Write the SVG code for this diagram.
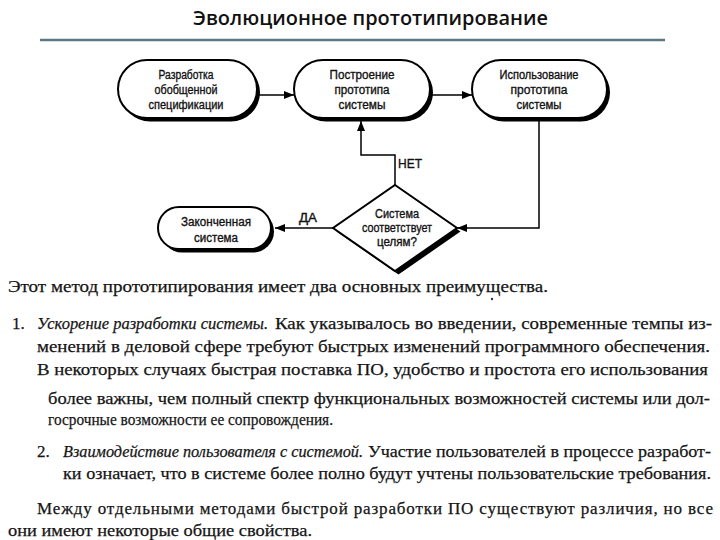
<svg xmlns="http://www.w3.org/2000/svg" width="720" height="540" viewBox="0 0 720 540">
<defs>
<style>
.box{fill:#fff;stroke:#000;stroke-width:2}
.sh{fill:#000}
.lbl{font-family:"Liberation Sans",Arial,sans-serif;font-size:12.5px;fill:#111;stroke:#111;stroke-width:0.35}
.body{font-family:"Liberation Serif","Times New Roman","DejaVu Serif",serif;font-size:17px;fill:#151515;stroke:#151515;stroke-width:0.25}
.it{font-style:italic}
.con{fill:none;stroke:#000;stroke-width:1.5}
</style>
<marker id="arr" markerUnits="userSpaceOnUse" markerWidth="10" markerHeight="8" refX="10" refY="4" orient="auto">
<path d="M0,0 L10,4 L0,8 z" fill="#000"/>
</marker>
</defs>
<rect width="720" height="540" fill="#fff"/>
<g id="title">
<text x="193" y="25" font-family="'Open Sans','Noto Sans',sans-serif" font-size="19" font-weight="600" fill="#111" textLength="355" lengthAdjust="spacingAndGlyphs">Эволюционное прототипирование</text>
<line x1="40" y1="40" x2="665" y2="40" stroke="#5d7884" stroke-width="2.5"/>
</g>
<g id="connectors">
<path class="con" d="M257,95 H294" marker-end="url(#arr)"/>
<path class="con" d="M430,95 H472" marker-end="url(#arr)"/>
<path class="con" d="M539,120 V228 H457" marker-end="url(#arr)"/>
<path class="con" d="M395,185 V155 H361 V121" marker-end="url(#arr)"/>
<path class="con" d="M333,228 H275" marker-end="url(#arr)"/>
<text class="lbl" x="398" y="167.5" textLength="24" lengthAdjust="spacingAndGlyphs">НЕТ</text>
<text class="lbl" x="299" y="221.5" textLength="18" lengthAdjust="spacingAndGlyphs">ДА</text>
</g>
<g id="node-spec">
<rect class="sh" x="121" y="63.5" width="139" height="58" rx="29"/>
<rect class="box" x="118" y="60" width="139" height="58" rx="29"/>
<text class="lbl" x="158.5" y="78.5" textLength="55" lengthAdjust="spacingAndGlyphs">Разработка</text>
<text class="lbl" x="154.5" y="93.5" textLength="63" lengthAdjust="spacingAndGlyphs">обобщенной</text>
<text class="lbl" x="148.5" y="108.5" textLength="75" lengthAdjust="spacingAndGlyphs">спецификации</text>
</g>
<g id="node-build">
<rect class="sh" x="297" y="63.5" width="136" height="58" rx="29"/>
<rect class="box" x="294" y="60" width="136" height="58" rx="29"/>
<text class="lbl" x="329.5" y="78.5" textLength="65" lengthAdjust="spacingAndGlyphs">Построение</text>
<text class="lbl" x="334.5" y="93.5" textLength="55" lengthAdjust="spacingAndGlyphs">прототипа</text>
<text class="lbl" x="338.5" y="108.5" textLength="47" lengthAdjust="spacingAndGlyphs">системы</text>
</g>
<g id="node-use">
<rect class="sh" x="475" y="63.5" width="135" height="58" rx="29"/>
<rect class="box" x="472" y="60" width="135" height="58" rx="29"/>
<text class="lbl" x="499.5" y="78.5" textLength="79" lengthAdjust="spacingAndGlyphs">Использование</text>
<text class="lbl" x="510.5" y="93.5" textLength="57" lengthAdjust="spacingAndGlyphs">прототипа</text>
<text class="lbl" x="516.5" y="108.5" textLength="45" lengthAdjust="spacingAndGlyphs">системы</text>
</g>
<g id="node-decision">
<polygon class="sh" points="398.5,188.5 460.5,231.5 398.5,274.5 336.5,231.5"/>
<polygon class="box" points="395,185 457,228 395,271 333,228"/>
<text class="lbl" x="375" y="217.5" textLength="44" lengthAdjust="spacingAndGlyphs">Система</text>
<text class="lbl" x="362" y="231.5" textLength="70" lengthAdjust="spacingAndGlyphs">соответствует</text>
<text class="lbl" x="377" y="245.5" textLength="40" lengthAdjust="spacingAndGlyphs">целям?</text>
</g>
<g id="node-done">
<rect class="sh" x="161" y="210.5" width="113" height="42" rx="21"/>
<rect class="box" x="158" y="207" width="113" height="42" rx="21"/>
<text class="lbl" x="181" y="225.5" textLength="70" lengthAdjust="spacingAndGlyphs">Законченная</text>
<text class="lbl" x="194" y="241.5" textLength="44" lengthAdjust="spacingAndGlyphs">система</text>
</g>
<g id="body-text" font-family="'Liberation Serif','Times New Roman',serif">
<text class="body" x="8" y="292" textLength="540" lengthAdjust="spacingAndGlyphs">Этот метод прототипирования имеет два основных преимущества.</text>
<circle cx="492" cy="299" r="1.2" fill="#333"/>
<text class="body" x="12" y="329">1.</text>
<text class="body it" x="37" y="329" textLength="231" lengthAdjust="spacingAndGlyphs">Ускорение разработки системы.</text>
<text class="body" x="275" y="329" textLength="437" lengthAdjust="spacingAndGlyphs">Как указывалось во введении, современные темпы из-</text>
<text class="body" x="37" y="352" textLength="673" lengthAdjust="spacingAndGlyphs">менений в деловой сфере требуют быстрых изменений программного обеспечения.</text>
<text class="body" x="37" y="375" textLength="671" lengthAdjust="spacingAndGlyphs">В некоторых случаях быстрая поставка ПО, удобство и простота его использования</text>
<text class="body" x="48" y="404" textLength="662" lengthAdjust="spacingAndGlyphs">более важны, чем полный спектр функциональных возможностей системы или дол-</text>
<text class="body" x="48" y="425" textLength="285" lengthAdjust="spacingAndGlyphs">госрочные возможности ее сопровождения.</text>
<text class="body" x="37" y="457">2.</text>
<text class="body it" x="63" y="457" textLength="300" lengthAdjust="spacingAndGlyphs">Взаимодействие пользователя с системой.</text>
<text class="body" x="368" y="457" textLength="343" lengthAdjust="spacingAndGlyphs">Участие пользователей в процессе разработ-</text>
<text class="body" x="63" y="479" textLength="648" lengthAdjust="spacingAndGlyphs">ки означает, что в системе более полно будут учтены пользовательские требования.</text>
<text class="body" x="37" y="514" textLength="676" lengthAdjust="spacing">Между отдельными методами быстрой разработки ПО существуют различия, но все</text>
<text class="body" x="8" y="536" textLength="304" lengthAdjust="spacingAndGlyphs">они имеют некоторые общие свойства.</text>
</g>
</svg>
